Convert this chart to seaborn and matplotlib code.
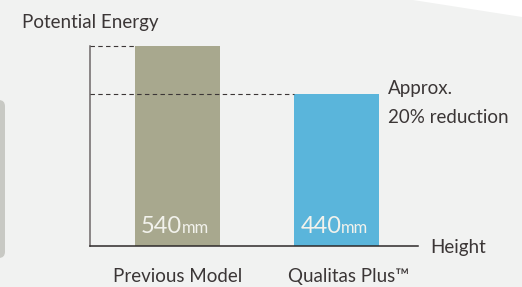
import pandas as pd
import seaborn as sns
import matplotlib.pyplot as plt
from matplotlib.patches import Polygon, FancyBboxPatch

# ====================
# Data
# ====================

models = ['Previous Model', 'Qualitas Plus\u2122']
heights_mm = [540, 440]
energy = [100, 76]          # relative potential energy
bar_colors = ['#a8a88e', '#5ab5db']

df = pd.DataFrame({'model': models, 'energy': energy})

# ====================
# Plotting
# ====================

sns.set_style('white')
plt.rcParams['font.family'] = ['Lato', 'DejaVu Sans']
ink = '#3b3636'
bg = '#f1f2f1'
W, H = 522, 287
fs = 13.5

fig = plt.figure(figsize=(W / 100, H / 100), dpi=100, facecolor=bg)

# page decoration: white corner top right, grey tab at the left edge
fig.patches.append(Polygon([[413 / W, 1], [1, 1], [1, 1 - 17 / H]], closed=True,
                           transform=fig.transFigure, facecolor='white', edgecolor='none'))
fig.patches.append(FancyBboxPatch((-12 / W, 29 / H), 17 / W, 158 / H,
                                  boxstyle='round,pad=0,rounding_size=0.012',
                                  mutation_aspect=W / H,
                                  transform=fig.transFigure, facecolor='#c8c9c4', edgecolor='none'))

ax = fig.add_axes([90 / W, 41 / H, 328 / W, 200 / H])
bw = 0.535
sns.barplot(data=df, x='model', y='energy', hue='model', palette=bar_colors,
            width=bw, saturation=1, legend=False, linewidth=0, ax=ax)

ax.set_xlim(-0.55, 1.513)
ax.set_ylim(0, energy[0])
ax.set_facecolor('none')
for s in ['top', 'right']:
    ax.spines[s].set_visible(False)
ax.spines['left'].set_color('#6e6868')
ax.spines['left'].set_linewidth(1.1)
ax.spines['bottom'].set_color('#2e2a2a')
ax.spines['bottom'].set_linewidth(1.1)
ax.set_xticks([])
ax.set_yticks([])
ax.set_xlabel('')
ax.set_ylabel('')

# dashed guides from the y axis to each bar top
ax.hlines(energy[0], -0.55, 0 - bw / 2, colors=ink, linestyles=(0, (4, 3)),
          linewidth=0.8, clip_on=False, zorder=3)
ax.hlines(energy[1], -0.55, 1 - bw / 2, colors=ink, linestyles=(0, (4, 3)),
          linewidth=0.8, clip_on=False, zorder=3)

# height labels inside bars
for i, h in enumerate(heights_mm):
    ax.annotate(str(h), xy=(i, 0), xytext=(3.5, 9.5), textcoords='offset points',
                ha='right', va='baseline', fontsize=17, color='#f2f2ec')
    ax.annotate('mm', xy=(i, 0), xytext=(3.5, 9.5), textcoords='offset points',
                ha='left', va='baseline', fontsize=12, color='#f2f2ec')

# category labels under the axis
offsets = [0, 9]
for i, m in enumerate(models):
    ax.annotate(m, xy=(i, 0), xytext=(offsets[i], -26), textcoords='offset points',
                ha='center', va='baseline', fontsize=fs, color=ink,
                annotation_clip=False)

ax.annotate('Height', xy=(1, 0), xycoords='axes fraction', xytext=(8.5, -5),
            textcoords='offset points', ha='left', va='baseline', fontsize=fs,
            color=ink, annotation_clip=False)

ax.annotate('Approx.', xy=(1 + bw / 2, energy[1]), xytext=(6.5, 0),
            textcoords='offset points', ha='left', va='baseline', fontsize=fs,
            color=ink, annotation_clip=False)
ax.annotate('20% reduction', xy=(1 + bw / 2, energy[1]), xytext=(6.5, -21),
            textcoords='offset points', ha='left', va='baseline', fontsize=fs,
            color=ink, annotation_clip=False)

fig.text(22 / W, 1 - 28 / H, 'Potential Energy', ha='left', va='baseline',
         fontsize=fs, color=ink)

fig.savefig('out.png', dpi=100, facecolor=bg)
